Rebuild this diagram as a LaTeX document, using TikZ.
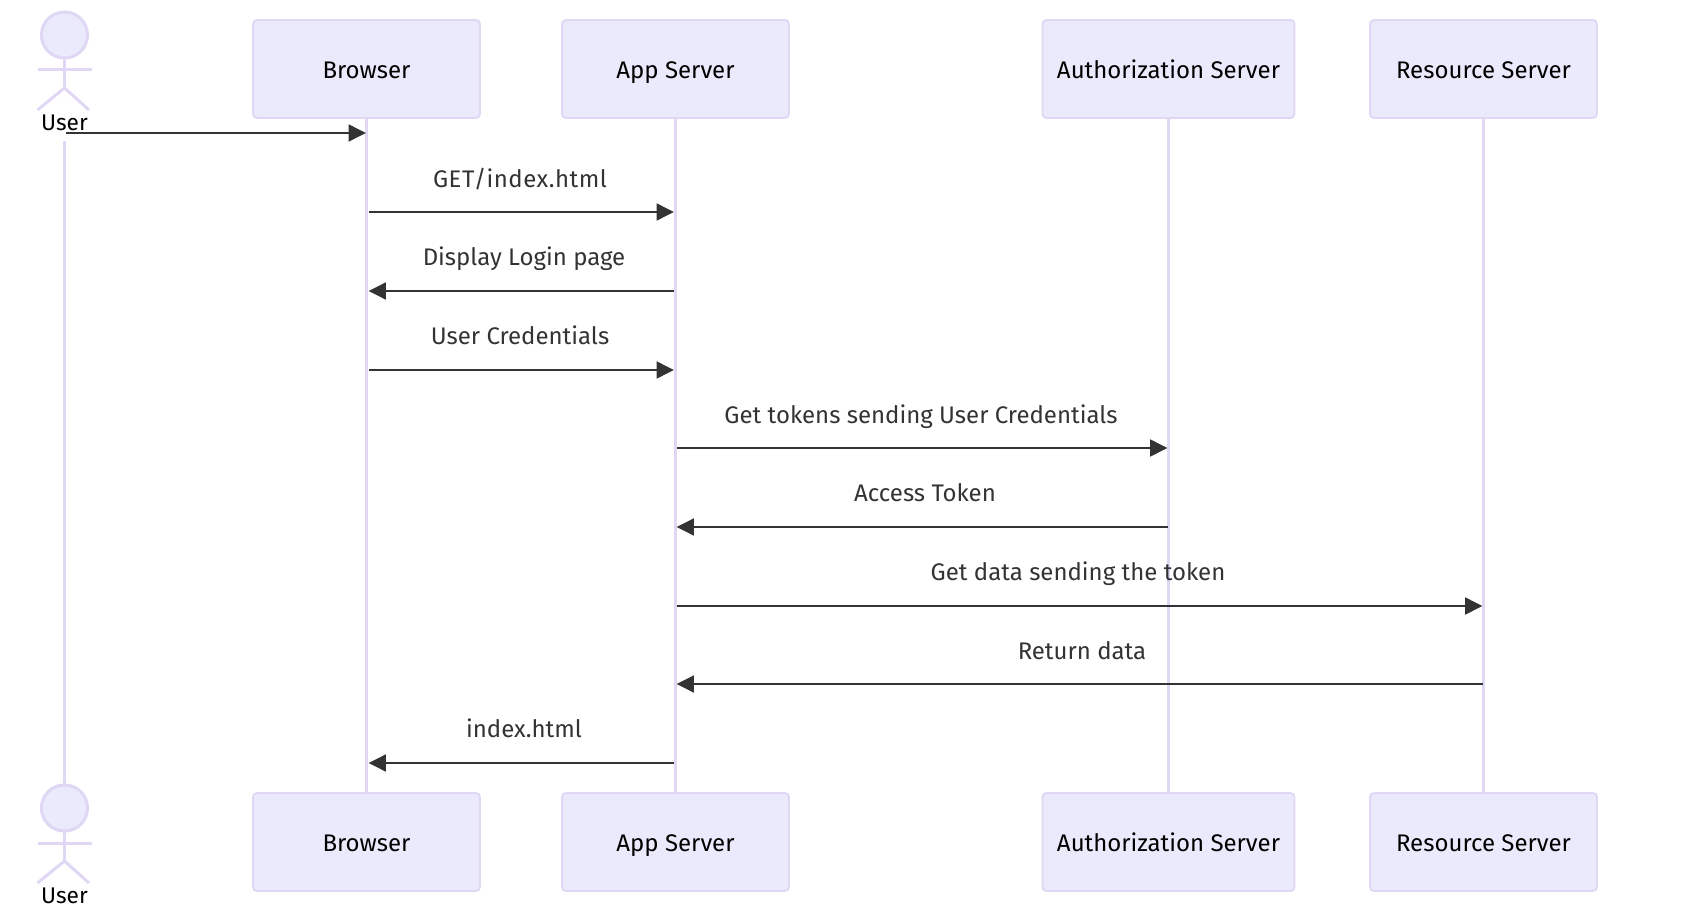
\documentclass[tikz,border=0pt]{standalone}
\usepackage{fontspec}
\setmainfont{Fira Sans}
\usetikzlibrary{arrows.meta}
\definecolor{lifeC}{HTML}{E0D7F5}
\definecolor{boxF}{HTML}{EAEAFC}
\definecolor{msgC}{HTML}{333333}
\tikzset{
  x=0.75pt,y=-0.75pt,
  actorbox/.style={draw=lifeC,fill=boxF,line width=1.4pt,rounded corners=3pt,minimum width=170.25pt,minimum height=73.5pt,inner sep=0pt,text=black,text height=14.25pt,text depth=0pt,font=\fontsize{18pt}{20pt}\selectfont},
  lifeline/.style={draw=lifeC,line width=2.25pt},
  limb/.style={draw=lifeC,line width=2.25pt},
  msg/.style={draw=msgC,line width=1.9pt,-{Triangle[length=13pt,width=12.5pt]}},
  msgtext/.style={text=msgC,inner sep=0pt,anchor=base,font=\fontsize{18pt}{20pt}\selectfont},
  usertext/.style={text=black,inner sep=0pt,anchor=base,font=\fontsize{17pt}{20pt}\selectfont},
}
\begin{document}
\begin{tikzpicture}
\useasboundingbox (0,0) rectangle (1688,916);
\coordinate (ut) at (64.5,141); \coordinate (ub) at (64.5,785);
\draw[lifeline] (ut) -- (ub);
\node[actorbox] (bt) at (366.5,69) {Browser};
\node[actorbox] (at) at (675.5,69) {App Server};
\node[actorbox,minimum width=189pt] (st) at (1168.5,69) {Authorization Server};
\node[actorbox] (rt) at (1483.5,69) {Resource Server};
\node[actorbox] (bb) at (366.5,842) {Browser};
\node[actorbox] (ab) at (675.5,842) {App Server};
\node[actorbox,minimum width=189pt] (sb) at (1168.5,842) {Authorization Server};
\node[actorbox] (rb) at (1483.5,842) {Resource Server};
\draw[lifeline] (bt) -- (bb);
\draw[lifeline] (at) -- (ab);
\draw[lifeline] (st) -- (sb);
\draw[lifeline] (rt) -- (rb);
% actors
\foreach \o in {0,773}{
  \begin{scope}[yshift=-\o*0.75pt]
  \draw[limb,fill=boxF] (64.5,35) circle (17.3pt);
  \draw[limb] (64.5,58) -- (64.5,88);
  \draw[limb] (37.5,70) -- (91.5,70);
  \draw[limb] (37.5,110) -- (64.5,88) -- (89,110);
  \end{scope}
}
\node[usertext] (u1) at (64.5,130.5) {User};
\node[usertext] (u2) at (64.5,903.5) {User};
% messages
\coordinate (m1s) at (66,133); \coordinate (m1e) at (366,133);
\draw[msg] (m1s) -- (m1e);
\coordinate (a2) at (369,212); \coordinate (b2) at (674,212);
\draw[msg] (a2) -- (b2);
\coordinate (a3) at (674,291); \coordinate (b3) at (368.5,291);
\draw[msg] (a3) -- (b3);
\coordinate (a4) at (369,370); \coordinate (b4) at (674,370);
\draw[msg] (a4) -- (b4);
\coordinate (a5) at (677,448); \coordinate (b5) at (1167.5,448);
\draw[msg] (a5) -- (b5);
\coordinate (a6) at (1167.5,527); \coordinate (b6) at (676.5,527);
\draw[msg] (a6) -- (b6);
\coordinate (a7) at (677,606); \coordinate (b7) at (1482.5,606);
\draw[msg] (a7) -- (b7);
\coordinate (a8) at (1482.5,684); \coordinate (b8) at (676.5,684);
\draw[msg] (a8) -- (b8);
\coordinate (a9) at (674,763); \coordinate (b9) at (368.5,763);
\draw[msg] (a9) -- (b9);
\node[msgtext] (l2) at (520,187.7) {\addfontfeature{LetterSpace=2}GET/index.html};
\node[msgtext] (l3) at (524,266) {Display Login page};
\node[msgtext] (l4) at (520,344.5) {User Credentials};
\node[msgtext] (l5) at (921,423.5) {Get tokens sending User Credentials};
\node[msgtext] (l6) at (925,501.5) {Access Token};
\node[msgtext] (l7) at (1078,580.5) {Get data sending the token};
\node[msgtext] (l8) at (1082,659) {Return data};
\node[msgtext] (l9) at (524,737.5) {index.html};
\end{tikzpicture}
\end{document}
